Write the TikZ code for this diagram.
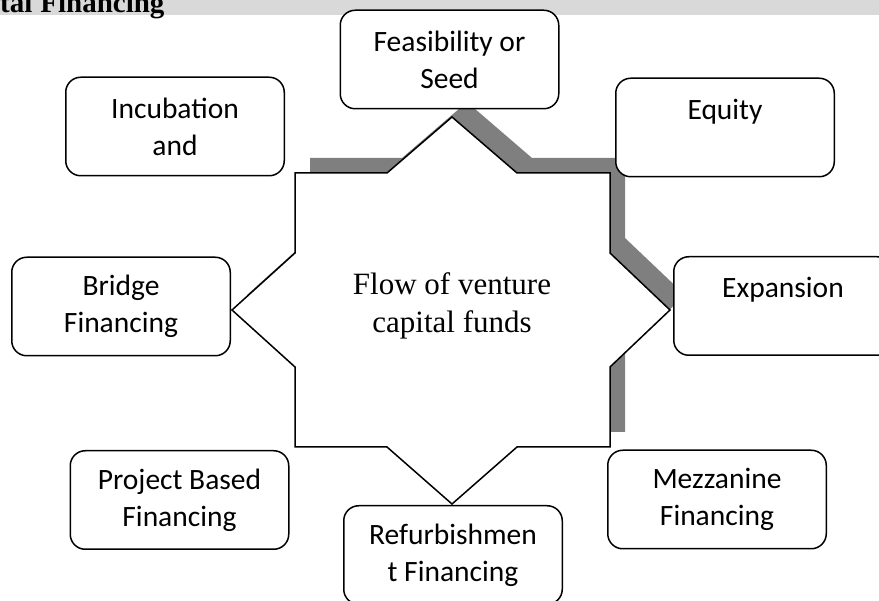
\documentclass[tikz,border=0pt]{standalone}
\usepackage{fontspec}
\setmainfont{Liberation Serif}
\newfontfamily\boxfont{Carlito}
\definecolor{shadowgrey}{HTML}{7F7F7F}
\definecolor{bargrey}{HTML}{D9D9D9}
\newcommand{\fundstar}{(295,173) -- (387,173) -- (452,117) -- (517,173) -- (610,173) -- (610,253) -- (670,310) -- (610,367) -- (610,447) -- (517,447) -- (452,504) -- (387,447) -- (295,447) -- (295,367) -- (232,310) -- (295,253) -- cycle}

\begin{document}
\begin{tikzpicture}[x=1pt, y=-1pt,
  box/.style={draw, fill=white, rounded corners=15pt, line width=1.5pt, minimum width=218.5pt, minimum height=98.5pt, align=center, inner sep=0pt, font=\boxfont\fontsize{29.5}{37}\selectfont}]
\useasboundingbox (0,0) rectangle (879,601);
\clip (0,0) rectangle (879,601);
\fill[bargrey] (0,0) rectangle (879,15);
\node[anchor=base west, inner sep=0pt, font=\bfseries\fontsize{29}{32}\selectfont] (title) at (0,13) {tal\hspace{8pt}Financing};
% star with its shadow
\fill[shadowgrey, shift={(15,-15)}] \fundstar;
\draw[fill=white, line width=1.5pt] \fundstar;
\node[align=center, font=\fontsize{31}{38}\selectfont] (flow) at (452,306) {Flow of venture\\capital funds};
\node[box] (box0) at (449.5,59.5) {Feasibility or\\Seed};
\node[box] (box1) at (175,126.5) {Incubation\\and};
\node[box] (box2) at (725,127.5) {Equity\\\mbox{}};
\node[box] (box3) at (121,306.5) {Bridge\\Financing};
\node[box] (box4) at (783,306) {Expansion\\\mbox{}};
\node[box] (box5) at (179.5,500) {Project Based\\Financing};
\node[box] (box6) at (717,499.5) {Mezzanine\\Financing};
\node[box] (box7) at (453,555) {Refurbishmen\\t Financing};
\end{tikzpicture}
\end{document}
